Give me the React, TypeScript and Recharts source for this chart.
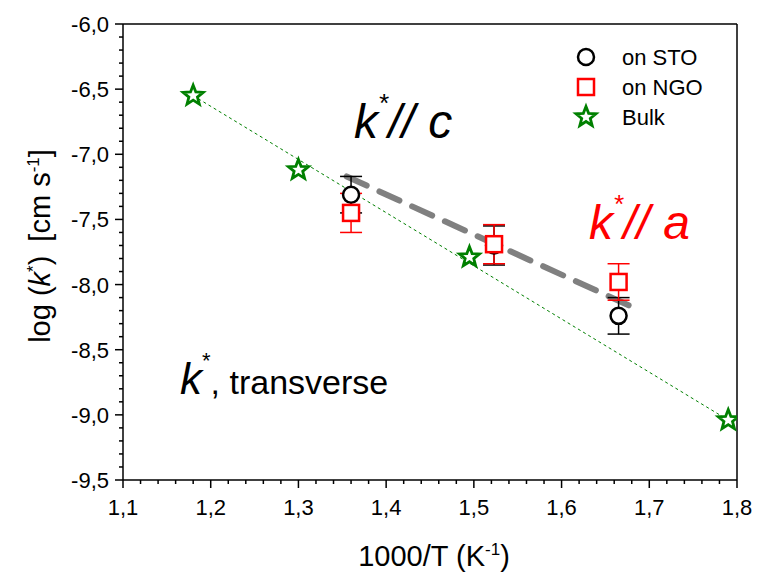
import React from 'react';
import {
  ScatterChart,
  Scatter,
  XAxis,
  YAxis,
  ErrorBar,
  ReferenceLine,
  Legend,
} from 'recharts';

// 1000/T 값과 log(k*) 값
const bulkX = [1.18, 1.3, 1.495, 1.79];
const bulkY = [-6.55, -7.12, -7.79, -9.04];

const stoX = [1.36, 1.523, 1.665];
const stoY = [-7.31, -7.7, -8.24];
const stoErr = [0.14, 0.15, 0.14];

const ngoX = [1.36, 1.523, 1.665];
const ngoY = [-7.45, -7.69, -7.98];
const ngoErr = [0.15, 0.15, 0.14];

// 피팅 직선 (끝점)
const bulkFitX = [1.18, 1.79];
const bulkFitY = [-6.55, -9.04];
const parallelCFitX = [1.355, 1.68];
const parallelCFitY = [-7.17, -8.17];

// 축 눈금
const xMajorTicks = [1.1, 1.2, 1.3, 1.4, 1.5, 1.6, 1.7, 1.8];
const yMajorTicks = [-9.5, -9.0, -8.5, -8.0, -7.5, -7.0, -6.5, -6.0];

const legendNames = ['on STO', 'on NGO', 'Bulk'];

const FONT = '"Liberation Sans", Arial, sans-serif';

// 보조 눈금 포함 전체 눈금
const withMinor = (majors: number[], parts: number) => {
  const out: number[] = [];
  for (let i = 0; i < majors.length - 1; i++) {
    const step = (majors[i + 1] - majors[i]) / parts;
    for (let j = 0; j < parts; j++) out.push(+(majors[i] + step * j).toFixed(3));
  }
  out.push(majors[majors.length - 1]);
  return out;
};
const xTicks = withMinor(xMajorTicks, 5);
const yTicks = withMinor(yMajorTicks, 5);

const isMajor = (v: number, majors: number[]) => majors.some((m) => Math.abs(m - v) < 1e-6);
const fmt = (v: number) => v.toFixed(1).replace('.', ',');

const bulkData = bulkX.map((x, i) => ({ x, y: bulkY[i] }));
const stoData = stoX.map((x, i) => ({ x, y: stoY[i], err: stoErr[i] }));
const ngoData = ngoX.map((x, i) => ({ x, y: ngoY[i], err: ngoErr[i] }));

const starPath = (cx: number, cy: number, R = 10.5, r = 4.5) => {
  let d = '';
  for (let i = 0; i < 10; i++) {
    const rad = i % 2 === 0 ? R : r;
    const a = -Math.PI / 2 + (i * Math.PI) / 5;
    d += `${i === 0 ? 'M' : 'L'}${cx + rad * Math.cos(a)},${cy + rad * Math.sin(a)}`;
  }
  return d + 'Z';
};

const CircleMark = ({ cx, cy }: any) => (
  <circle cx={cx} cy={cy} r={8} fill="#fff" stroke="#000" strokeWidth={2.5} />
);
const SquareMark = ({ cx, cy }: any) => (
  <rect x={cx - 8} y={cy - 8} width={16} height={16} fill="#fff" stroke="#ff0000" strokeWidth={2.5} />
);
const StarMark = ({ cx, cy }: any) => (
  <path d={starPath(cx, cy)} fill="#fff" stroke="#008000" strokeWidth={2.8} />
);

const XTick = ({ x, y, payload }: any) => {
  const major = isMajor(payload.value, xMajorTicks);
  return (
    <g>
      <line x1={x} y1={y} x2={x} y2={y + (major ? 8 : 4)} stroke="#000" strokeWidth={1.5} />
      {major && (
        <text x={x} y={y + 35} textAnchor="middle" fontSize={22} fontFamily={FONT} fill="#000">
          {fmt(payload.value)}
        </text>
      )}
    </g>
  );
};

const YTick = ({ x, y, payload }: any) => {
  const major = isMajor(payload.value, yMajorTicks);
  return (
    <g>
      <line x1={x} y1={y} x2={x - (major ? 8 : 4)} y2={y} stroke="#000" strokeWidth={1.5} />
      {major && (
        <text x={x - 14} y={y + 8} textAnchor="end" fontSize={22} fontFamily={FONT} fill="#000">
          {fmt(payload.value)}
        </text>
      )}
    </g>
  );
};

const renderLegend = () => {
  const marks = [
    <circle key="c" cx={14} cy={12} r={8} fill="#fff" stroke="#000" strokeWidth={2.5} />,
    <rect key="s" x={6} y={34} width={16} height={16} fill="#fff" stroke="#ff0000" strokeWidth={2.5} />,
    <path key="b" d={starPath(14, 72)} fill="#fff" stroke="#008000" strokeWidth={2.8} />,
  ];
  return (
    <svg width={160} height={90}>
      {marks}
      {legendNames.map((n, i) => (
        <text key={n} x={50} y={20 + i * 30} fontSize={22} fontFamily={FONT} fill="#000">
          {n}
        </text>
      ))}
    </svg>
  );
};

export default function App() {
  return (
    <div style={{ position: 'absolute', left: 0, top: 0, background: '#fff' }}>
      <ScatterChart width={760} height={585} margin={{ top: 24, right: 23, left: 0, bottom: 0 }}>
        <XAxis
          type="number"
          dataKey="x"
          domain={[1.1, 1.8]}
          ticks={xTicks}
          interval={0}
          allowDataOverflow
          height={105}
          tickSize={0}
          tickMargin={0}
          tick={<XTick />}
          axisLine={{ stroke: '#000', strokeWidth: 1.5 }}
        />
        <YAxis
          type="number"
          dataKey="y"
          domain={[-9.5, -6]}
          ticks={yTicks}
          interval={0}
          allowDataOverflow
          width={123}
          tickSize={0}
          tickMargin={0}
          tick={<YTick />}
          axisLine={{ stroke: '#000', strokeWidth: 1.5 }}
        />
        {/* 위/오른쪽 테두리 */}
        <ReferenceLine y={-6} stroke="#000" strokeWidth={1.5} />
        <ReferenceLine x={1.8} stroke="#000" strokeWidth={1.5} />

        <ReferenceLine
          segment={[
            { x: bulkFitX[0], y: bulkFitY[0] },
            { x: bulkFitX[1], y: bulkFitY[1] },
          ]}
          stroke="#008000"
          strokeWidth={1}
          strokeDasharray="3 3"
        />
        <ReferenceLine
          segment={[
            { x: parallelCFitX[0], y: parallelCFitY[0] },
            { x: parallelCFitX[1], y: parallelCFitY[1] },
          ]}
          stroke="#808080"
          strokeWidth={6}
          strokeDasharray="22 14"
          strokeLinecap="round"
        />

        <Scatter data={bulkData} shape={<StarMark />} isAnimationActive={false} />
        <Scatter data={stoData} shape={<CircleMark />} isAnimationActive={false}>
          <ErrorBar dataKey="err" direction="y" width={11} stroke="#000" strokeWidth={1.5} />
        </Scatter>
        <Scatter data={ngoData} shape={<SquareMark />} isAnimationActive={false}>
          <ErrorBar dataKey="err" direction="y" width={11} stroke="#ff0000" strokeWidth={1.5} />
        </Scatter>

        <Legend
          layout="vertical"
          verticalAlign="middle"
          align="center"
          content={renderLegend}
          wrapperStyle={{ position: 'absolute', left: 572, top: 45, width: 160, height: 90 }}
        />

        {/* 주석 텍스트 */}
        <text x={354} y={138} fontSize={48} fontStyle="italic" fontFamily={FONT} fill="#000">
          k<tspan dy={-26} fontSize={26}>*</tspan>
          <tspan dy={26}>// c</tspan>
        </text>
        <text x={589} y={239} fontSize={48} fontStyle="italic" fontFamily={FONT} fill="#ff0000">
          k<tspan dy={-26} fontSize={26}>*</tspan>
          <tspan dy={26}>// a</tspan>
        </text>
        <text x={180} y={394} fontSize={34} fontFamily={FONT} fill="#000">
          <tspan fontStyle="italic" fontSize={44}>k</tspan>
          <tspan dy={-26} fontSize={22}>*</tspan>
          <tspan dy={26}>, transverse</tspan>
        </text>

        {/* 축 제목 */}
        <text x={434} y={566} textAnchor="middle" fontSize={29} fontFamily={FONT} fill="#000">
          1000/T (K<tspan dy={-11} fontSize={17}>-1</tspan>
          <tspan dy={11}>)</tspan>
        </text>
        <text
          transform="translate(50,246) rotate(-90)"
          textAnchor="middle"
          fontSize={29}
          fontFamily={FONT}
          fill="#000"
        >
          log (<tspan fontStyle="italic">k</tspan>
          <tspan dy={-11} fontSize={17}>*</tspan>
          <tspan dy={11}>)</tspan>
          <tspan dx={14}>[cm s</tspan>
          <tspan dy={-11} fontSize={17}>-1</tspan>
          <tspan dy={11}>]</tspan>
        </text>
      </ScatterChart>
    </div>
  );
}
